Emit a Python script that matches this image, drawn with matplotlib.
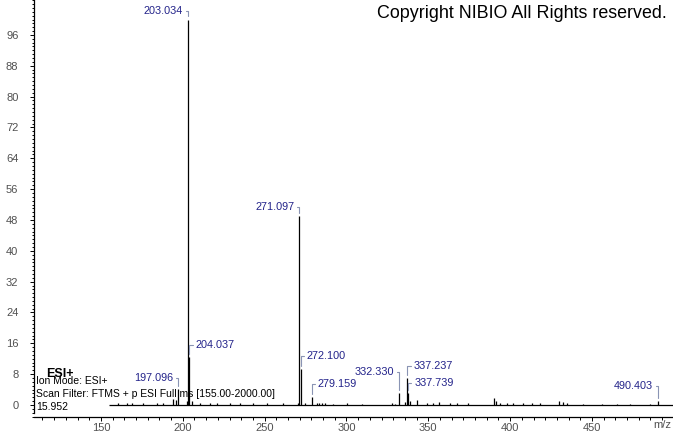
import matplotlib
matplotlib.use("Agg")
import matplotlib.pyplot as plt
from matplotlib.ticker import MultipleLocator

plt.rcParams["font.family"] = ["Liberation Sans", "DejaVu Sans"]

# labelled peaks: m/z and relative abundance (%)
peak_mz = [197.096, 203.034, 204.037, 271.097, 272.100, 279.159,
           332.330, 337.237, 337.739, 490.403]
peak_int = [4.1, 100.0, 12.5, 49.0, 9.4, 2.1, 3.1, 7.1, 3.0, 1.1]

# small unlabelled peaks
noise_mz = [160.6, 165.7, 168.7, 175.9, 184.0, 188.1, 194.2, 195.6, 202.4,
            205.4, 210.5, 216.6, 220.7, 228.8, 234.9, 243.1, 251.2, 261.4,
            270.5, 274.6, 281.8, 283.4, 285.0, 286.9, 292.0, 300.1, 309.3,
            327.6, 329.6, 335.7, 338.8, 342.9, 349.0, 352.6, 356.7, 363.2,
            367.3, 374.4, 390.3, 391.3, 393.8, 397.9, 401.9, 408.0, 413.1,
            418.2, 430.0, 432.5, 434.5, 444.7, 455.9, 465.1, 473.2, 485.4]
noise_int = [0.4, 0.4, 0.5, 0.5, 0.4, 0.4, 1.6, 1.4, 1.0,
             1.0, 0.4, 0.4, 0.5, 0.4, 0.4, 0.4, 0.5, 0.5,
             0.6, 0.5, 0.5, 0.4, 0.5, 0.4, 0.3, 0.4, 0.3,
             0.5, 0.3, 0.8, 1.0, 1.2, 0.4, 0.6, 0.7, 0.4,
             0.4, 0.4, 1.8, 1.0, 0.5, 0.4, 0.4, 0.4, 0.4,
             0.5, 1.0, 0.7, 0.4, 0.3, 0.3, 0.3, 0.3, 0.3]

scan_range = (155.00, 2000.00)
info_lines = ["Ion Mode: ESI+",
              "Scan Filter: FTMS + p ESI Full ms [155.00-2000.00]",
              "15.952"]

# label placement, pixels from peak top: (side, dx, dy)
label_place = {
    197.096: ("left", 5, 11), 203.034: ("left", 5, 9),
    204.037: ("right", 6, 12), 271.097: ("left", 5, 9),
    272.100: ("right", 6, 13), 279.159: ("right", 5, 13),
    332.330: ("left", 5, 21), 337.237: ("right", 6, 12),
    337.739: ("right", 6, 10), 490.403: ("left", 5, 15),
}

W, H = 673, 433
PT = 72 / 100  # pixel -> point
fig = plt.figure(figsize=(W / 100, H / 100), dpi=100)
ax = fig.add_axes([34 / W, 1 - 416.7 / H, 1 - 34 / W, 416.7 / H])

ax.hlines(0, scan_range[0], scan_range[1], color="black", lw=0.9)
ax.vlines(noise_mz, 0, noise_int, color="black", lw=0.9)
ax.vlines(peak_mz, 0, peak_int, color="black", lw=0.9)

for mz, inten in zip(peak_mz, peak_int):
    side, dx, dy = label_place[mz]
    sign = -1 if side == "left" else 1
    ax.annotate(f"{mz:.3f}", xy=(mz, inten), xycoords="data",
                xytext=(sign * dx * PT, dy * PT), textcoords="offset points",
                ha="right" if side == "left" else "left", va="center",
                fontsize=7.8, color="#23238a",
                arrowprops=dict(arrowstyle="-", color="#8a94b4", lw=0.8,
                                connectionstyle="angle,angleA=0,angleB=90,rad=0",
                                relpos=(1, 0.5) if side == "left" else (0, 0.5),
                                shrinkA=0, shrinkB=2.2))

ax.set_xlim(109.1, 499.5)
ax.set_ylim(-3.03, 105.06)
for s in ("top", "right"):
    ax.spines[s].set_visible(False)
ax.spines["left"].set_bounds(-2.1, 105.06)
for s in ("left", "bottom"):
    ax.spines[s].set_linewidth(0.9)

ax.yaxis.set_major_locator(MultipleLocator(8))
ax.yaxis.set_minor_locator(MultipleLocator(1))
ax.xaxis.set_major_locator(MultipleLocator(50))
ax.xaxis.set_minor_locator(MultipleLocator(50 / 7))
ax.set_yticks(range(0, 97, 8))
ax.tick_params(which="major", length=3.2, width=0.7, labelsize=8,
               labelcolor="#505050")
ax.tick_params(which="minor", length=1.8, width=0.7)
ax.tick_params(axis="y", which="major", pad=8)
ax.tick_params(axis="x", which="major", length=3.2, pad=1.5)
ax.tick_params(axis="x", which="minor", length=2.2)

fig.text(671 / W, 1 - 425 / H, "m/z", ha="right", va="center",
         fontsize=8, color="#505050")
fig.text(667 / W, 1 - 14 / H, "Copyright NIBIO All Rights reserved.",
         ha="right", va="center", fontsize=12.9, color="black")

fig.text(46 / W, 1 - 374 / H, "ESI+", ha="left", va="center",
         fontsize=9, fontweight="bold", color="black")
for i, line in enumerate(info_lines):
    fig.text(36 / W, 1 - (381 + 13 * i) / H, line, ha="left", va="center",
             fontsize=7.5, color="black")

fig.savefig("out.png", dpi=100)
